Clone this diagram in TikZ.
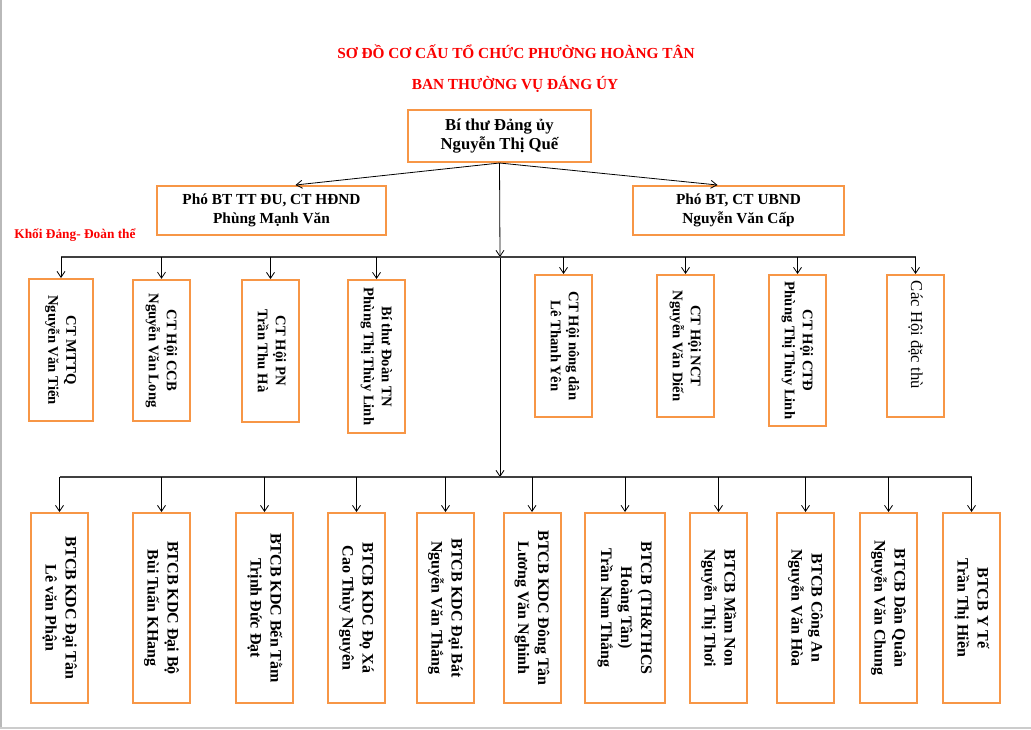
\documentclass[tikz,border=0pt]{standalone}
\usepackage{fontspec}
\setmainfont{Liberation Serif}
\usepackage{graphicx}
\usetikzlibrary{arrows.meta, positioning}
\definecolor{hdBorder}{RGB}{247,150,70}
\definecolor{hdRed}{RGB}{250,0,0}
\newcommand{\vlines}[1]{\rotatebox{-90}{\begin{tabular}{@{}c@{}}#1\end{tabular}}}

\begin{document}
\begin{tikzpicture}[x=0.75pt, y=-0.75pt,
    titletext/.style={font=\fontsize{11.5}{14}\selectfont\bfseries, text=hdRed},
    leadbox/.style={draw=hdBorder, line width=1.5pt, align=center, inner sep=0pt,
      font=\fontsize{12.5}{14}\selectfont\bfseries},
    unitbox/.style={draw=hdBorder, line width=1.5pt, inner sep=0pt,
      minimum width=42.75pt, font=\fontsize{11}{13.5}\selectfont\bfseries},
    kdcbox/.style={unitbox, minimum height=142.5pt, font=\fontsize{12}{15}\selectfont\bfseries},
    arr/.style={-{Straight Barb[length=4.5pt,width=6pt]}, line width=0.6pt},
    busline/.style={line width=0.8pt, draw=black!75}
  ]
    \useasboundingbox (0,0) rectangle (1031,729);
    \draw[gray!55, line width=1.5pt] (1,0) -- (1,729);
    \draw[gray!40, line width=1pt] (0,728) -- (1031,728);

    \node[titletext] (title) at (516,52) {SƠ ĐỒ CƠ CẤU TỔ CHỨC PHƯỜNG HOÀNG TÂN};
    \node[titletext] (subtitle) at (515,84) {BAN THƯỜNG VỤ ĐÁNG ÚY};

    \node[leadbox, minimum width=137.25pt, minimum height=39pt] (lead) at (499.5,136)
      {Bí thư Đảng ủy\\Nguyễn Thị Quế};
    \node[leadbox, minimum width=171.75pt, minimum height=36.75pt,
      font=\fontsize{11.5}{14}\selectfont\bfseries] (viceL) at (271.5,210.5)
      {Phó BT TT ĐU, CT HĐND\\Phùng Mạnh Văn};
    \node[leadbox, minimum width=158.25pt, minimum height=36.75pt,
      font=\fontsize{11.5}{14}\selectfont\bfseries] (viceR) at (738.5,210.5)
      {Phó BT, CT UBND\\Nguyễn Văn Cấp};
    \node[font=\fontsize{10}{12}\selectfont\bfseries, text=hdRed] (khoi) at (75,235)
      {Khối Đảng- Đoàn thể};

    \draw[arr] (lead.south) -- ([xshift=18pt]viceL.north);
    \draw[arr] (lead.south) -- ([xshift=-15.75pt]viceR.north);

    \coordinate (hub1) at (500,257);
    \coordinate (hub2) at (500,477);
    \draw[arr] (lead.south) -- (hub1);
    \draw[arr] (hub1) -- (hub2);

    \node[unitbox, minimum width=48pt, minimum height=106.5pt] (mttq) at (61,350)
      {\vlines{CT MTTQ\\Nguyễn Văn Tiến}};
    \node[unitbox, minimum height=106pt] (ccb) at (161.5,350.5)
      {\vlines{CT Hội CCB\\Nguyễn Văn Long}};
    \node[unitbox, minimum height=106.5pt] (hpn) at (270.5,351)
      {\vlines{CT Hội PN\\Trần Thu Hà}};
    \node[unitbox, minimum height=114.75pt] (dtn) at (376.5,356.5)
      {\vlines{Bí thư Đoàn TN\\Phùng Thị Thùy Linh}};
    \node[unitbox, minimum height=106.5pt] (hnd) at (563.5,346)
      {\vlines{CT Hội nông dân\\Lê Thanh Yên}};
    \node[unitbox, minimum height=106.5pt] (nct) at (685.5,346)
      {\vlines{CT Hội NCT\\Nguyễn Văn Diến}};
    \node[unitbox, minimum height=113.25pt] (ctd) at (797.5,350.5)
      {\vlines{CT Hội CTĐ\\Phùng Thị Thùy Linh}};
    \node[unitbox, minimum height=106.5pt] (dacthu) at (915.5,346) {};
    \node[below=5pt of dacthu.north, inner sep=0pt, font=\fontsize{12.5}{15}\selectfont]
      (dacthutext) {\rotatebox{-90}{Các Hội đặc thù}};

    \draw[busline] (mttq.north |- hub1) -- (dacthu.north |- hub1);
    \draw[arr] (mttq.north |- hub1) -- (mttq.north);
    \draw[arr] (ccb.north |- hub1) -- (ccb.north);
    \draw[arr] (hpn.north |- hub1) -- (hpn.north);
    \draw[arr] (dtn.north |- hub1) -- (dtn.north);
    \draw[arr] (hnd.north |- hub1) -- (hnd.north);
    \draw[arr] (nct.north |- hub1) -- (nct.north);
    \draw[arr] (ctd.north |- hub1) -- (ctd.north);
    \draw[arr] (dacthu.north |- hub1) -- (dacthu.north);

    \node[kdcbox] (dtan) at (59.5,608) {\vlines{BTCB KDC Đại Tân\\Lê văn Phận}};
    \node[kdcbox] (dbo) at (161.5,608) {\vlines{BTCB KDC Đại Bộ\\Bùi Tuấn KHang}};
    \node[kdcbox] (btam) at (264.5,608) {\vlines{BTCB KDC Bến Tằm\\Trịnh Đức Đạt}};
    \node[kdcbox] (doxa) at (356.5,608) {\vlines{BTCB KDC Đọ Xá\\Cao Thùy Nguyên}};
    \node[kdcbox] (dbat) at (445.5,608) {\vlines{BTCB KDC Đại Bát\\Nguyễn Văn Thắng}};
    \node[kdcbox] (dongtan) at (532,608) {\vlines{BTCB KDC Đông Tân\\Lương Văn Nghinh}};
    \node[kdcbox, minimum width=60pt] (thcs) at (625,608)
      {\vlines{BTCB (TH\&THCS\\Hoàng Tân)\\Trần Nam Thắng}};
    \node[kdcbox] (mamnon) at (718.5,608) {\vlines{BTCB Mầm Non\\Nguyễn Thị Thơi}};
    \node[kdcbox] (congan) at (805.5,608) {\vlines{BTCB Công An\\Nguyễn Văn Hòa}};
    \node[kdcbox] (danquan) at (888.5,608) {\vlines{BTCB Dân Quân\\Nguyễn Văn Chung}};
    \node[kdcbox] (yte) at (971.5,608) {\vlines{BTCB Y Tế\\Trần Thị Hiền}};

    \draw[busline] (dtan.north |- hub2) -- (yte.north |- hub2);
    \draw[arr] (dtan.north |- hub2) -- (dtan.north);
    \draw[arr] (dbo.north |- hub2) -- (dbo.north);
    \draw[arr] (btam.north |- hub2) -- (btam.north);
    \draw[arr] (doxa.north |- hub2) -- (doxa.north);
    \draw[arr] (dbat.north |- hub2) -- (dbat.north);
    \draw[arr] (dongtan.north |- hub2) -- (dongtan.north);
    \draw[arr] (thcs.north |- hub2) -- (thcs.north);
    \draw[arr] (mamnon.north |- hub2) -- (mamnon.north);
    \draw[arr] (congan.north |- hub2) -- (congan.north);
    \draw[arr] (danquan.north |- hub2) -- (danquan.north);
    \draw[arr] (yte.north |- hub2) -- (yte.north);
  \end{tikzpicture}
\end{document}
